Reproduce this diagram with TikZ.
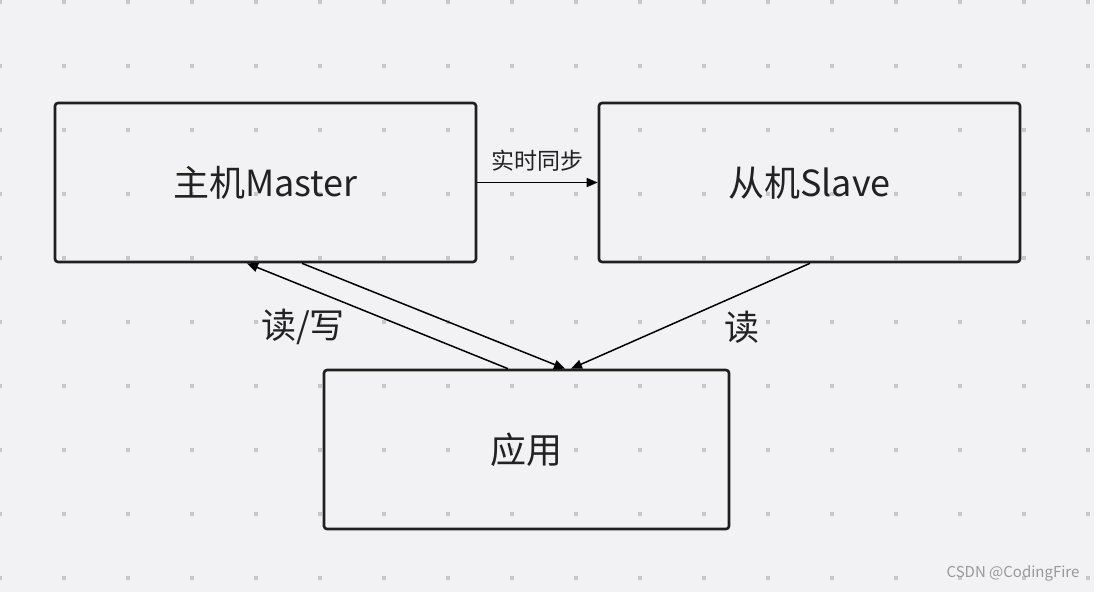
\documentclass[tikz,border=0pt]{standalone}
\usepackage{fontspec}
\setmainfont{Noto Sans CJK SC}
\usetikzlibrary{arrows.meta, positioning, calc}
\definecolor{canvas}{HTML}{F2F2F4}
\definecolor{griddot}{HTML}{C8C8C8}
\definecolor{ink}{HTML}{222222}

\begin{document}
\begin{tikzpicture}[
  x=1pt, y=-1pt,
  box/.style={draw=ink!90!black, line width=2.6pt, rounded corners=3pt,
    minimum width=421pt, minimum height=159pt, font=\fontsize{36}{42}\selectfont, text=ink},
  link/.style={draw=black, line width=1.5pt, -{Triangle[length=11pt, width=9pt]}},
  lbl/.style={font=\fontsize{35}{40}\selectfont, text=ink},
]
\useasboundingbox[fill=canvas] (0,0) rectangle (1094,592);
\foreach \i in {0,...,17}
  \foreach \j in {0,...,9}
    \fill[griddot] ({64*\i-2},{64*\j}) rectangle ++(4,4);

\node[box] (M) at (265.5,182.5) {主机Master};
\node[box] (S) at (809.5,182.5) {从机Slave};
\node[box, minimum width=405pt] (A) at (526.5,449.5) {应用};

\draw[link] (M.east) -- (S.west)
  node[midway, above=7pt, font=\fontsize{23}{27}\selectfont, text=ink] (sync) {实时同步};
\draw[link] ([xshift=-18.5pt]A.north) -- ([xshift=-18.5pt]M.south);
\draw[link] ([xshift=36.5pt]M.south) -- ([xshift=38.5pt]A.north);
\draw[link] ([xshift=0.5pt]S.south) -- ([xshift=44.5pt]A.north);

\node[lbl] (rw) at (303,327) {读/写};
\node[lbl] (r) at (742,327) {读};

\node[font=\fontsize{15}{18}\selectfont, text=black!40] (mark) at (1013,573) {CSDN @CodingFire};
\end{tikzpicture}
\end{document}
